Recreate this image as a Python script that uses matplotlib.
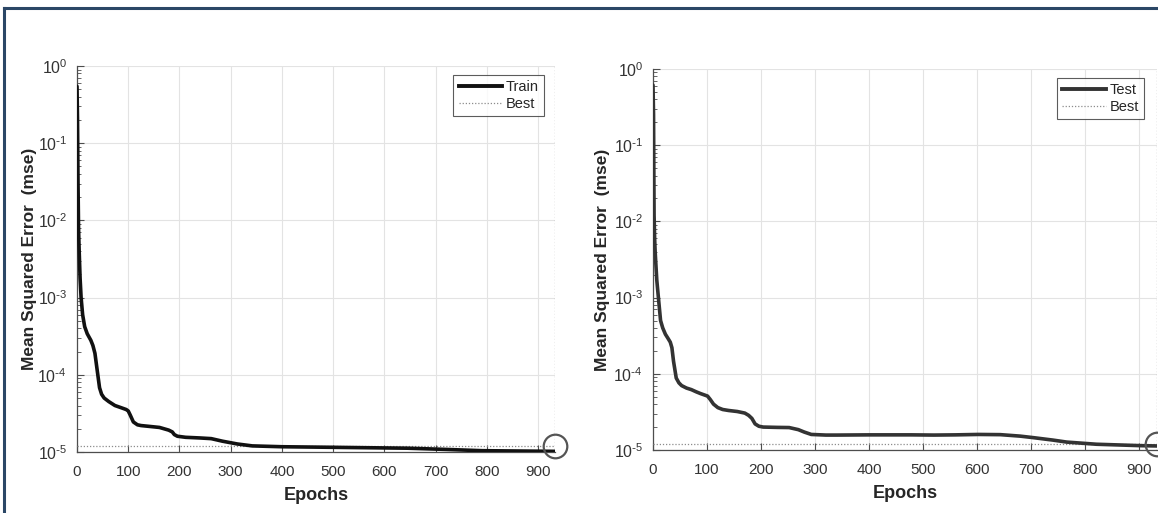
import numpy as np
import matplotlib
matplotlib.use("Agg")
import matplotlib.pyplot as plt
from matplotlib.lines import Line2D
from matplotlib.ticker import LogLocator, NullFormatter

plt.rcParams['font.family'] = ['Liberation Sans', 'DejaVu Sans']

# ---- data ----
train_epochs = [0, 1, 2, 3, 4, 6, 8, 11, 15, 20, 27, 31, 35, 39, 44, 48, 53, 62, 74, 86, 96, 100,
                104, 110, 118, 125, 140, 161, 179, 186, 190, 196, 212, 240, 262, 284, 313, 342,
                400, 500, 645, 720, 790, 860, 933]
train_mse = [0.545, 0.2, 0.03, 0.008, 0.0045, 0.0018, 0.001, 0.0006, 0.00042, 0.00034, 0.00028,
             0.00024, 0.00019, 0.00012, 6.8e-5, 5.6e-5, 5.0e-5, 4.5e-5, 4.0e-5, 3.75e-5, 3.55e-5,
             3.4e-5, 3.0e-5, 2.45e-5, 2.25e-5, 2.2e-5, 2.15e-5, 2.08e-5, 1.92e-5, 1.82e-5, 1.68e-5,
             1.6e-5, 1.55e-5, 1.52e-5, 1.49e-5, 1.38e-5, 1.27e-5, 1.2e-5, 1.17e-5, 1.15e-5, 1.12e-5,
             1.08e-5, 1.04e-5, 1.03e-5, 1.02e-5]
train_best = 1.19e-5

test_epochs = [0, 1, 2, 3, 4, 7, 10, 14, 18, 23, 28, 32, 35, 38, 43, 48, 53, 62, 71, 80, 88, 101,
               106, 112, 120, 129, 140, 156, 170, 177, 183, 189, 196, 204, 230, 252, 269, 280,
               293, 320, 341, 400, 478, 520, 560, 602, 643, 680, 705, 740, 766, 821, 870, 903, 933]
test_mse = [0.615, 0.25, 0.012, 0.006, 0.004, 0.0017, 0.001, 0.0005, 0.0004, 0.00033, 0.00029,
            0.00026, 0.00022, 0.000146, 8.8e-5, 7.6e-5, 7.0e-5, 6.5e-5, 6.2e-5, 5.8e-5, 5.5e-5, 5.1e-5,
            4.6e-5, 4.0e-5, 3.6e-5, 3.4e-5, 3.3e-5, 3.2e-5, 3.05e-5, 2.85e-5, 2.6e-5, 2.2e-5, 2.05e-5,
            2.0e-5, 1.98e-5, 1.97e-5, 1.85e-5, 1.72e-5, 1.6e-5, 1.57e-5, 1.57e-5, 1.58e-5, 1.58e-5,
            1.57e-5, 1.58e-5, 1.6e-5, 1.59e-5, 1.52e-5, 1.45e-5, 1.35e-5, 1.27e-5, 1.19e-5, 1.16e-5,
            1.14e-5, 1.13e-5]
test_best = 1.2e-5

best_epoch = 933
x_ticks = [0, 100, 200, 300, 400, 500, 600, 700, 800, 900]
y_ticks = [1e-5, 1e-4, 1e-3, 1e-2, 1e-1, 1e0]
y_tick_labels = [r'$\mathdefault{10^{\text{-}5}}$', r'$\mathdefault{10^{\text{-}4}}$',
                 r'$\mathdefault{10^{\text{-}3}}$', r'$\mathdefault{10^{\text{-}2}}$',
                 r'$\mathdefault{10^{\text{-}1}}$', r'$\mathdefault{10^{0}}$']

W, H = 1158, 513
fig = plt.figure(figsize=(W / 100, H / 100), dpi=100)

def px_axes(left, top, right, bottom):
    return fig.add_axes([left / W, 1 - bottom / H, (right - left) / W, (bottom - top) / H])

gray_axis = '#4d4d4d'
tick_color = '#333333'

def style(ax, epochs, mse, best, color, label, leg_anchor):
    ax.plot(epochs, mse, color=color, lw=2.6, solid_capstyle='round', zorder=4)
    ax.axhline(best, color='#8c8c8c', lw=0.9, ls=(0, (1, 1.5)), zorder=3)
    ax.axvline(best_epoch, color='#8c8c8c', lw=0.9, ls=(0, (1, 1.5)), zorder=3)
    ax.plot([best_epoch], [best], marker='o', ms=17, mfc='none', mec='#555555', mew=1.6,
            zorder=5, clip_on=False)
    ax.set_yscale('log')
    ax.set_xlim(0, best_epoch)
    ax.set_ylim(1e-5, 1e0)
    ax.set_xticks(x_ticks)
    ax.set_yticks(y_ticks)
    ax.set_yticklabels(y_tick_labels)
    ax.yaxis.set_minor_locator(LogLocator(base=10, subs=np.arange(2, 10), numticks=20))
    ax.yaxis.set_minor_formatter(NullFormatter())
    ax.tick_params(axis='both', which='major', direction='in', length=5, width=0.8,
                   colors=gray_axis, labelcolor=tick_color)
    ax.tick_params(axis='x', which='major', labelsize=11, pad=9)
    ax.tick_params(axis='y', which='major', labelsize=11.5, pad=7)
    ax.tick_params(axis='y', which='minor', direction='in', length=3, width=0.6, colors=gray_axis)
    ax.grid(True, which='major', color='#e3e3e3', lw=0.8, zorder=0)
    for s in ['top', 'right']:
        ax.spines[s].set_visible(False)
    for s in ['left', 'bottom']:
        ax.spines[s].set_color(gray_axis)
        ax.spines[s].set_linewidth(0.9)
    ax.set_xlabel('Epochs', fontsize=13, fontweight='bold', color='#262626', labelpad=6)
    ax.set_ylabel('Mean Squared Error  (mse)', fontsize=12.5, fontweight='bold',
                  color='#262626')
    handles = [Line2D([], [], color=color, lw=2.8),
               Line2D([], [], color='#8c8c8c', lw=0.9, ls=(0, (1, 1.5)))]
    leg = ax.legend(handles, [label, 'Best'], loc='upper right', bbox_to_anchor=leg_anchor,
                    fontsize=10.5, frameon=True, fancybox=False, edgecolor='#333333',
                    handlelength=3.0, handletextpad=0.25, borderpad=0.35, labelspacing=0.2,
                    borderaxespad=0)
    leg.get_frame().set_linewidth(0.8)
    for t in leg.get_texts():
        t.set_color('#262626')

ax1 = px_axes(77, 66, 555, 452)
style(ax1, train_epochs, train_mse, train_best, '#111111', 'Train', (0.977, 0.977))
ax2 = px_axes(653, 69, 1157, 450)
style(ax2, test_epochs, test_mse, test_best, '#333333', 'Test', (0.974, 0.976))

ax1.yaxis.set_label_coords(-0.084, 0.5)
ax2.yaxis.set_label_coords(-0.085, 0.5)

# outer frame (top and left edges visible)
frame_color = '#2b4766'
fig.add_artist(Line2D([4 / W, 1], [1 - 8 / H, 1 - 8 / H], color=frame_color, lw=2.2,
                      transform=fig.transFigure))
fig.add_artist(Line2D([4 / W, 4 / W], [0, 1 - 8 / H], color=frame_color, lw=2.2,
                      transform=fig.transFigure))

fig.savefig('out.png', dpi=100, facecolor='white')
